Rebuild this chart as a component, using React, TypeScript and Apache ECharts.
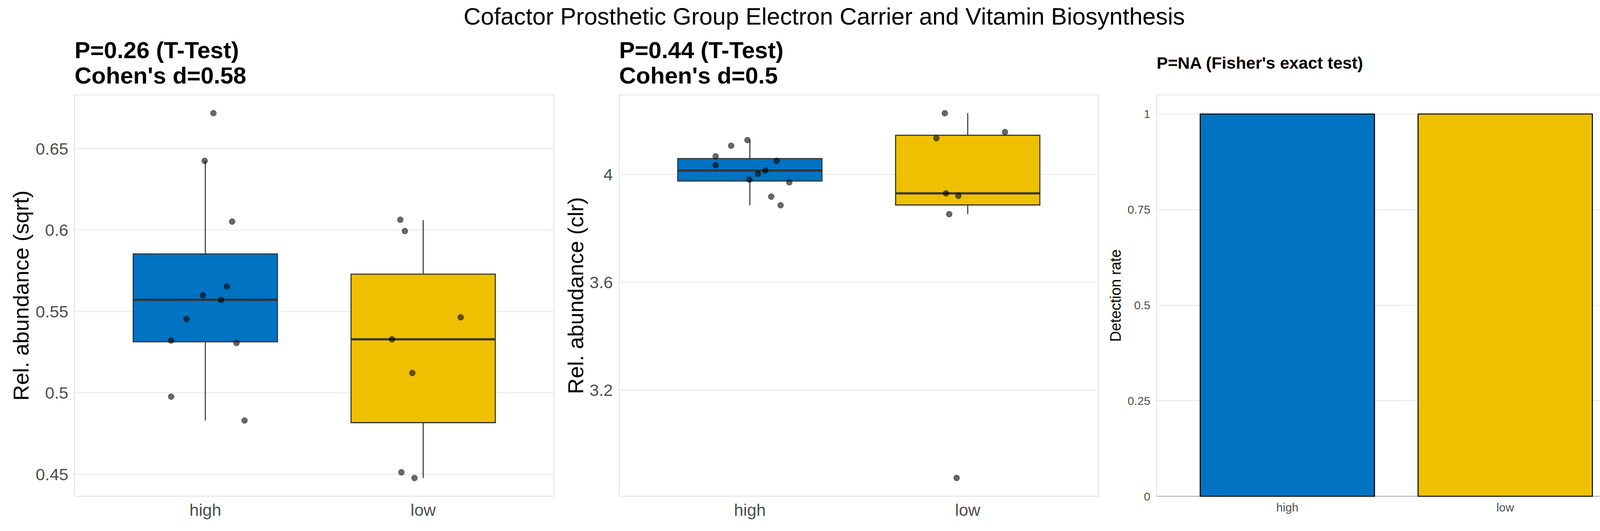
import React, { useEffect, useRef } from 'react';
import * as echarts from 'echarts';

// ---------- data ----------
const groups = ['high', 'low'];
const groupColors = ['#0073C2', '#EFC000'];

const mainTitle = 'Cofactor Prosthetic Group Electron Carrier and Vitamin Biosynthesis';
const subtitle1 = ['P=0.26 (T-Test)', "Cohen's d=0.58"];
const subtitle2 = ['P=0.44 (T-Test)', "Cohen's d=0.5"];
const subtitle3 = "P=NA (Fisher's exact test)";

const yName1 = 'Rel. abundance (sqrt)';
const yName2 = 'Rel. abundance (clr)';
const yName3 = 'Detection rate';

// box stats: [lower whisker, Q1, median, Q3, upper whisker]
const box1High = [0.4830, 0.5314, 0.5572, 0.5853, 0.6425];
const box1Low = [0.4477, 0.4817, 0.5329, 0.5729, 0.6061];
const box2High = [3.886, 3.976, 4.015, 4.0595, 4.128];
const box2Low = [3.853, 3.887, 3.930, 4.146, 4.228];

// jittered points (x = group position incl. jitter, y = value)
const pts1HighX = [1.037, 0.997, 1.123, 1.099, 0.989, 1.072, 0.914, 0.843, 1.143, 0.843, 1.180];
const pts1HighY = [0.6718, 0.6425, 0.6052, 0.5654, 0.5600, 0.5571, 0.5453, 0.5321, 0.5306, 0.4977, 0.4830];
const pts1LowX = [1.895, 1.916, 2.172, 1.857, 1.950, 1.900, 1.960];
const pts1LowY = [0.6063, 0.5994, 0.5464, 0.5329, 0.5122, 0.4512, 0.4477];

const pts2HighX = [0.989, 0.914, 0.843, 1.123, 0.843, 1.071, 1.037, 0.998, 1.181, 1.098, 1.141];
const pts2HighY = [4.128, 4.107, 4.068, 4.051, 4.035, 4.015, 4.0025, 3.981, 3.971, 3.918, 3.886];
const pts2LowX = [1.895, 2.171, 1.856, 1.900, 1.957, 1.915, 1.949];
const pts2LowY = [4.228, 4.158, 4.135, 3.930, 3.921, 3.853, 2.873];

const detectionRate = [1, 1];

// axis ticks / ranges
const yTicks1 = [0.45, 0.5, 0.55, 0.6, 0.65];
const yRange1 = [0.4365, 0.6830];
const yTicks2 = [3.2, 3.6, 4];
const yRange2 = [2.805, 4.296];
const yTicks3 = [0, 0.25, 0.5, 0.75, 1];
const yRange3 = [0, 1.05];
const xRange = [0.4, 2.6];
const xTicks = [1, 2];

// ---------- layout ----------
const FONT = "'Liberation Sans', Arial, Helvetica, sans-serif";
const gridLefts = [191, 1585, 2961];
const GRID_TOP = 243;
const GRID_W = 1227;
const GRID_H = 1028;
const BOX_HALF = 0.331;
const BAR_HALF = 0.4;

function boxRender(params: any, api: any) {
  const x = api.value(0);
  const lo = api.value(1);
  const q1 = api.value(2);
  const med = api.value(3);
  const q3 = api.value(4);
  const hi = api.value(5);
  const ci = api.value(6);
  const pLo = api.coord([x, lo]);
  const pQ1 = api.coord([x, q1]);
  const pMed = api.coord([x, med]);
  const pQ3 = api.coord([x, q3]);
  const pHi = api.coord([x, hi]);
  const half = api.size([BOX_HALF, 0])[0];
  const stroke = '#333333';
  return {
    type: 'group',
    children: [
      { type: 'line', shape: { x1: pHi[0], y1: pHi[1], x2: pQ3[0], y2: pQ3[1] }, style: { stroke, lineWidth: 2.6 } },
      { type: 'line', shape: { x1: pLo[0], y1: pLo[1], x2: pQ1[0], y2: pQ1[1] }, style: { stroke, lineWidth: 2.6 } },
      {
        type: 'rect',
        shape: { x: pQ3[0] - half, y: pQ3[1], width: 2 * half, height: pQ1[1] - pQ3[1] },
        style: { fill: groupColors[ci], stroke, lineWidth: 2.8 },
      },
      { type: 'line', shape: { x1: pMed[0] - half, y1: pMed[1], x2: pMed[0] + half, y2: pMed[1] }, style: { stroke, lineWidth: 5.5 } },
    ],
  };
}

function barRender(params: any, api: any) {
  const x = api.value(0);
  const v = api.value(1);
  const ci = api.value(2);
  const pTop = api.coord([x - BAR_HALF, v]);
  const pBot = api.coord([x + BAR_HALF, 0]);
  return {
    type: 'rect',
    shape: { x: pTop[0], y: pTop[1], width: pBot[0] - pTop[0], height: pBot[1] - pTop[1] },
    style: { fill: groupColors[ci], stroke: '#000000', lineWidth: 2.6 },
  };
}

function makeYAxis(i: number, range: number[], ticks: number[], name: string, fontSize: number, nameSize: number, nameGap: number) {
  return {
    type: 'value',
    gridIndex: i,
    min: range[0],
    max: range[1],
    axisLine: { show: false },
    axisTick: { show: false, customValues: ticks },
    axisLabel: { customValues: ticks, fontSize, color: '#4D4D4D', margin: 16, fontFamily: FONT },
    splitLine: { show: true, lineStyle: { color: '#DEDEDE', width: 1.6 } },
    name,
    nameLocation: 'middle',
    nameRotate: 90,
    nameGap,
    nameTextStyle: { fontSize: nameSize, lineHeight: nameSize, color: '#000000', fontFamily: FONT },
  };
}

function makeXAxis(i: number, fontSize: number, margin: number, showLine: boolean) {
  return {
    type: 'value',
    gridIndex: i,
    min: xRange[0],
    max: xRange[1],
    axisLine: { show: showLine, onZero: false, lineStyle: { color: '#A8A8A8', width: 2 } },
    axisTick: { show: false, customValues: xTicks },
    axisLabel: {
      customValues: xTicks,
      formatter: (v: number) => groups[Math.round(v) - 1] ?? '',
      fontSize,
      color: '#4D4D4D',
      margin,
      fontFamily: FONT,
    },
    splitLine: { show: false },
  };
}

function pointsData(xs: number[], ys: number[]) {
  return xs.map((x, k) => [x, ys[k]]);
}

const pointStyle = { color: 'rgba(0,0,0,0.74)', borderColor: 'rgba(0,0,0,0.6)', borderWidth: 1.2 };

export default function App() {
  const ref = useRef<HTMLDivElement>(null);
  useEffect(() => {
    if (!ref.current) return;
    const chart = echarts.init(ref.current, undefined, { renderer: 'svg' });
    const option: any = {
      animation: false,
      backgroundColor: '#FFFFFF',
      textStyle: { fontFamily: FONT },
      title: [
        { text: mainTitle, left: 'center', top: 7, padding: 0, textStyle: { fontSize: 61, fontWeight: 'normal', color: '#000', lineHeight: 70, fontFamily: FONT } },
        { text: subtitle1.join('\n'), left: gridLefts[0], top: 96, padding: 0, textStyle: { fontSize: 60, fontWeight: 'bold', color: '#000', lineHeight: 65, fontFamily: FONT } },
        { text: subtitle2.join('\n'), left: gridLefts[1], top: 96, padding: 0, textStyle: { fontSize: 60, fontWeight: 'bold', color: '#000', lineHeight: 65, fontFamily: FONT } },
        { text: subtitle3, left: gridLefts[2], top: 136, padding: 0, textStyle: { fontSize: 43, fontWeight: 'bold', color: '#000', lineHeight: 50, fontFamily: FONT } },
      ],
      grid: gridLefts.map((l) => ({
        left: l,
        top: GRID_TOP,
        width: GRID_W,
        height: GRID_H,
        show: true,
        borderColor: '#D9D9D9',
        borderWidth: 1.6,
        backgroundColor: 'transparent',
      })),
      xAxis: [makeXAxis(0, 43, 13, false), makeXAxis(1, 43, 13, false), makeXAxis(2, 30, 13, true)],
      yAxis: [
        makeYAxis(0, yRange1, yTicks1, yName1, 43, 56, 110),
        makeYAxis(1, yRange2, yTicks2, yName2, 43, 56, 84),
        makeYAxis(2, yRange3, yTicks3, yName3, 30, 38, 86),
      ],
      series: [
        {
          type: 'custom',
          xAxisIndex: 0,
          yAxisIndex: 0,
          renderItem: boxRender,
          encode: { x: 0, y: [1, 2, 3, 4, 5] },
          data: [[1, ...box1High, 0], [2, ...box1Low, 1]],
          z: 2,
        },
        { type: 'scatter', xAxisIndex: 0, yAxisIndex: 0, symbolSize: 15, itemStyle: pointStyle, data: pointsData(pts1HighX, pts1HighY), z: 5 },
        { type: 'scatter', xAxisIndex: 0, yAxisIndex: 0, symbolSize: 15, itemStyle: pointStyle, data: pointsData(pts1LowX, pts1LowY), z: 5 },
        {
          type: 'custom',
          xAxisIndex: 1,
          yAxisIndex: 1,
          renderItem: boxRender,
          encode: { x: 0, y: [1, 2, 3, 4, 5] },
          data: [[1, ...box2High, 0], [2, ...box2Low, 1]],
          z: 2,
        },
        { type: 'scatter', xAxisIndex: 1, yAxisIndex: 1, symbolSize: 15, itemStyle: pointStyle, data: pointsData(pts2HighX, pts2HighY), z: 5 },
        { type: 'scatter', xAxisIndex: 1, yAxisIndex: 1, symbolSize: 15, itemStyle: pointStyle, data: pointsData(pts2LowX, pts2LowY), z: 5 },
        {
          type: 'custom',
          xAxisIndex: 2,
          yAxisIndex: 2,
          renderItem: barRender,
          encode: { x: 0, y: 1 },
          data: detectionRate.map((v, k) => [xTicks[k], v, k]),
          z: 2,
        },
      ],
    };
    chart.setOption(option);
    return () => chart.dispose();
  }, []);
  return <div ref={ref} style={{ position: 'absolute', left: 0, top: 0, width: 4220, height: 1360, background: '#fff' }} />;
}
